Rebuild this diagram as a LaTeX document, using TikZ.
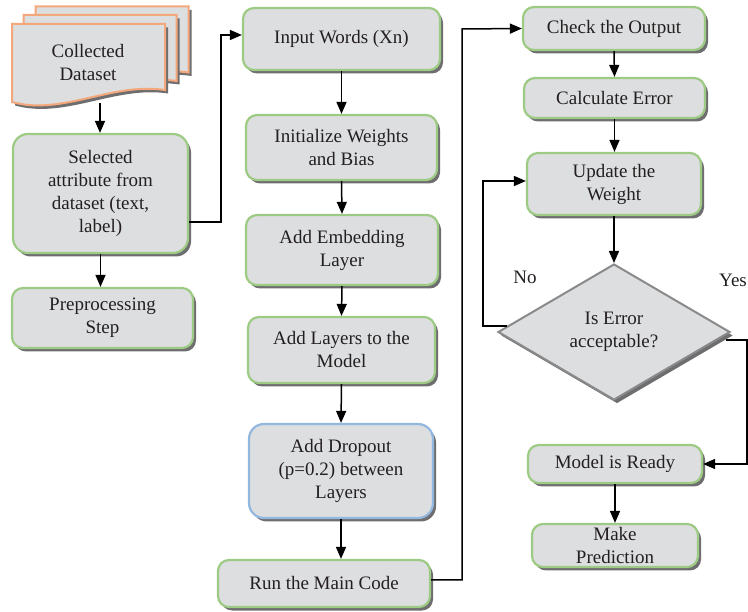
\documentclass[tikz,border=0pt]{standalone}
\usepackage{fontspec}
\setmainfont{Liberation Serif}
\usetikzlibrary{arrows.meta,shapes.geometric,calc}

\definecolor{boxfill}{HTML}{DDDEE0}
\definecolor{edgegreen}{HTML}{9DCB84}
\definecolor{edgeblue}{HTML}{93B8E0}
\definecolor{edgeorange}{HTML}{F4A77A}
\definecolor{edgegray}{HTML}{8A8A8A}
\definecolor{shadowc}{HTML}{6E6E70}
\definecolor{inkc}{HTML}{231F20}

\tikzset{
  shade box/.style={preaction={fill=shadowc, transform canvas={shift={(3pt,-3.5pt)}}}},
  stepbox/.style={rectangle, rounded corners=11pt, draw=edgegreen, line width=2.2pt,
    fill=boxfill, shade box, align=center, inner sep=0pt, text=inkc,
    font=\fontsize{19}{23}\selectfont},
  bluebox/.style={stepbox, draw=edgeblue},
  decision/.style={diamond, aspect=1.7, draw=edgegray, line width=2pt, fill=boxfill,
    shade box, align=center, inner sep=0pt, text=inkc,
    font=\fontsize{19}{23}\selectfont},
  sheet/.style={draw=edgeorange, line width=2pt, fill=boxfill, shade box},
  flow/.style={draw=black, line width=1.5pt, -{Triangle[length=12pt,width=10pt]}},
  lbl/.style={text=inkc, inner sep=0pt, font=\fontsize{19}{23}\selectfont}
}

\newcommand{\docsheet}{(0,0) -- (153,0) -- (153,66)
  .. controls (100,58) and (50,92) .. (0,78) -- cycle}

\begin{document}
\begin{tikzpicture}[x=1pt,y=-1pt]
\useasboundingbox (0,0) rectangle (748,612);

% stacked document sheets, back to front
\begin{scope}[shift={(35.5,6.5)}]
  \path[sheet] \docsheet;
\end{scope}
\begin{scope}[shift={(23.5,15)}]
  \path[sheet] \docsheet;
\end{scope}
\begin{scope}[shift={(12,24)}]
  \path[sheet] \docsheet;
\end{scope}
\node[lbl, align=center] (data) at (88,63) {Collected\\Dataset};
\coordinate (datab) at (100,103);

% left column
\node[stepbox, rounded corners=15pt, minimum width=175pt, minimum height=119pt] (sel) at (100.5,193.5)
  {Selected\\attribute from\\dataset (text,\\label)};
\node[stepbox, minimum width=181pt, minimum height=60pt] (pre) at (102.5,318)
  {Preprocessing\\Step};

% middle column
\node[stepbox, minimum width=197pt, minimum height=62pt] (inp) at (341.5,39) {Input Words (Xn)};
\node[stepbox, minimum width=191pt, minimum height=65pt] (ini) at (341.5,147.5) {Initialize Weights\\and Bias};
\node[stepbox, minimum width=192pt, minimum height=70pt] (emb) at (342,250) {Add Embedding\\Layer};
\node[stepbox, minimum width=187pt, minimum height=66pt] (lay) at (341.5,350) {Add Layers to the\\Model};
\node[bluebox, rounded corners=15pt, minimum width=184pt, minimum height=94pt] (drp) at (341,471)
  {Add Dropout\\(p=0.2) between\\Layers};
\node[stepbox, minimum width=212pt, minimum height=47pt] (run) at (324,583.5) {Run the Main Code};

% right column
\node[stepbox, minimum width=182pt, minimum height=43pt] (chk) at (614,28.5) {Check the Output};
\node[stepbox, minimum width=181pt, minimum height=40pt] (cal) at (614.5,98) {Calculate Error};
\node[stepbox, minimum width=174pt, minimum height=62pt] (upd) at (614,184) {Update the\\Weight};
\node[decision, minimum width=232pt, minimum height=136pt] (dia) at (614,332) {Is Error\\acceptable?};
\node[stepbox, minimum width=174pt, minimum height=38pt] (rdy) at (615,464) {Model is Ready};
\node[stepbox, minimum width=166pt, minimum height=43pt] (prd) at (615,545.5) {Make\\Prediction};

\node[lbl] (no) at (525,277) {No};
\node[lbl, anchor=west] (yes) at (719,280) {Yes};

% connectors
\draw[flow] (datab) -- (datab |- sel.north);
\draw[flow] (sel.south) -- (sel.south |- pre.north);
\draw[flow] ($(sel.east)+(0,28.5)$) -| (221,35) -- ($(inp.west)+(0,-4)$);
\draw[flow] (inp.south) -- (ini.north);
\draw[flow] (ini.south) -- (emb.north);
\draw[flow] (emb.south) -- (lay.north);
\draw[flow] (lay.south) -- (drp.north);
\draw[flow] (drp.south) -- (drp.south |- run.north);
\draw[flow] ($(run.east)+(0,-3.5)$) -| (462,29) -- (chk.west);
\draw[flow] (chk.south) -- (cal.south |- cal.north);
\draw[flow] (cal.south) -- (cal.south |- upd.north);
\draw[flow] (upd.south) -- (dia.north);
\draw[flow] ($(dia.west)+(10,-6)$) -- (483,326) |- ($(upd.west)+(0,-3)$);
\draw[flow] ($(dia.east)+(-5,8)$) -- (747,340) |- (rdy.east);
\draw[flow] (rdy.south) -- (rdy.south |- prd.north);
\end{tikzpicture}
\end{document}
